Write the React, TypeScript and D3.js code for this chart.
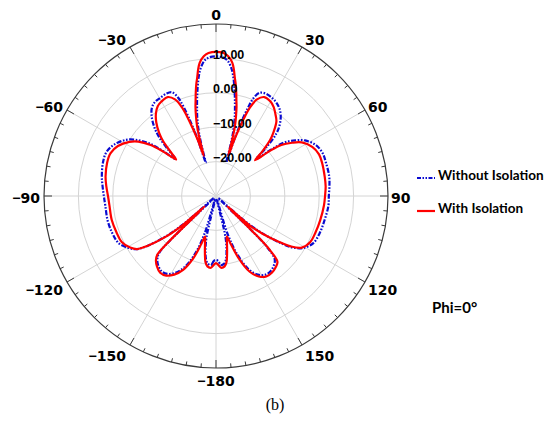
import React from "react";
import * as d3 from "d3";

// Angle (deg, clockwise from top) sampled along both patterns
const angles = [
  -180, -178, -176, -173, -171, -169, -167, -165, -163, -160,
  -156, -152, -148, -144, -140, -137, -135, -134, -132.5, -131,
  -129, -126, -124, -121, -116, -110, -103, -95, -90, -85,
  -80, -73, -68, -63, -58, -55, -52, -50, -47.5, -46,
  -44, -42, -39, -36, -33, -30, -26, -23, -21, -20,
  -19, -18, -17, -16, -15, -14, -13, -12, -11, -10,
  -9, -8, -7, -5, -3, 0, 3, 5, 7, 8,
  9, 10, 11, 12, 13, 14, 15, 16, 17, 18,
  19, 20, 21, 23, 26, 30, 33, 36, 39, 42,
  44, 46, 47.5, 50, 52, 55, 58, 63, 68, 73,
  80, 85, 90, 95, 103, 110, 116, 121, 124, 126,
  129, 131, 132.5, 134, 135, 137, 140, 144, 148, 152,
  156, 160, 163, 165, 167, 169, 171, 173, 176, 178,
];

// With Isolation (dB)
const withIsolation = [
  -10.5, -9.9, -9.1, -9.4, -10.5, -13.1, -15.8, -17.8, -15.5, -10.8,
  -6.5, -4.1, -2.7, -2.4, -3.3, -4.4, -5.9, -11.1, -25.6, -16.9,
  -11.1, -5.3, -2.4, -0.9, 0.5, 0.8, 1.1, 1.1, 1.4, 2.0,
  2.6, 3.1, 3.1, 2.0, -0.3, -2.4, -5.9, -9.7, -14.3, -12.0,
  -7.9, -5.3, -2.4, -0.3, 1.1, 1.7, 2.0, 0.5, -2.4, -5.3,
  -9.1, -13.1, -17.8, -12.6, -8.5, -5.9, -3.5, -1.5, 0.8, 3.0,
  4.9, 7.2, 9.0, 10.8, 11.6, 11.9, 11.6, 10.8, 9.0, 7.2,
  4.9, 3.0, 0.8, -1.5, -3.5, -5.9, -8.5, -12.6, -17.8, -13.1,
  -9.1, -5.3, -2.4, 0.5, 2.0, 1.7, 0.8, -0.6, -2.1, -5.0,
  -7.3, -11.1, -14.6, -9.7, -5.9, -3.0, -0.6, 1.4, 2.3, 2.3,
  2.1, 2.0, 1.7, 1.5, 1.1, 0.8, 0.5, -0.9, -3.8, -7.3,
  -12.6, -16.9, -25.6, -15.5, -8.2, -3.8, -3.0, -2.4, -2.4, -3.5,
  -5.9, -10.8, -15.5, -17.8, -15.8, -13.1, -10.5, -9.4, -9.1, -9.9,
];

// Without Isolation (dB)
const withoutIsolation = [
  -11.4, -11.1, -9.9, -10.2, -11.4, -14.0, -17.8, -29.1, -18.4, -12.0,
  -7.3, -4.7, -3.3, -3.0, -3.8, -5.0, -6.7, -12.6, -29.1, -18.4,
  -11.7, -5.3, -2.4, -0.6, 1.4, 2.0, 2.3, 2.3, 2.6, 3.1,
  3.7, 4.3, 4.3, 3.1, 0.8, -1.5, -5.0, -9.1, -14.0, -10.8,
  -6.2, -3.3, -0.3, 1.7, 2.6, 2.8, 3.1, 2.8, 0.5, -2.4,
  -6.7, -12.0, -19.8, -14.9, -10.8, -7.9, -5.6, -3.5, -1.2, 1.1,
  3.4, 5.5, 7.2, 9.4, 10.3, 10.6, 10.3, 9.4, 7.2, 5.5,
  3.4, 1.1, -1.2, -3.5, -5.6, -7.9, -10.8, -14.9, -19.8, -12.0,
  -6.7, -2.4, 0.5, 2.6, 3.1, 2.8, 2.3, 1.4, -0.1, -2.4,
  -4.7, -9.7, -14.0, -8.8, -4.7, -1.8, 0.5, 2.6, 3.4, 3.4,
  3.4, 3.1, 2.8, 2.8, 2.3, 2.0, 1.4, -0.6, -3.3, -6.7,
  -13.1, -19.0, -29.1, -16.9, -9.1, -5.0, -3.8, -3.0, -3.0, -4.1,
  -6.7, -12.0, -18.4, -29.1, -17.8, -14.0, -11.4, -10.2, -9.9, -11.1,
];

const radialTicks = [-20, -10, 0, 10];
const radialTickLabels = ["−20.00", "−10.00", "0.00", "10.00"];
const angleTicks = [0, 30, 60, 90, 120, 150, 180, 210, 240, 270, 300, 330];
const angleTickLabels = ["0", "30", "60", "90", "120", "150", "−180", "−150", "−120", "−90", "−60", "−30"];
const seriesNames = ["Without Isolation", "With Isolation"];
const noteText = "Phi=0°";
const captionText = "(b)";

const W = 550;
const H = 425;
const cx = 216;
const cy = 196;
const R = 172;

export default function App() {
  const rScale = d3.scaleLinear().domain([-30, 20]).range([0, R]).clamp(true);
  const rad = (a: number) => (a * Math.PI) / 180;

  const makeLine = (vals: number[]) =>
    d3
      .lineRadial<number>()
      .angle((_, i) => rad(angles[i]))
      .radius((v) => rScale(v))
      .curve(d3.curveCatmullRomClosed.alpha(0.5))(vals) as string;

  const minorTicks = d3.range(0, 360, 5);
  const labelFont = "'Liberation Sans', Arial, sans-serif";
  const angleFont = "'DejaVu Sans', Verdana, sans-serif";
  const legendFont = "Lato, 'Open Sans', sans-serif";

  const renderAngleLabel = (s: string) => {
    if (s.startsWith("−")) {
      return (
        <>
          <tspan fontFamily={labelFont}>−</tspan>
          <tspan>{s.slice(1)}</tspan>
        </>
      );
    }
    return s;
  };

  return (
    <svg
      width={W}
      height={H}
      style={{ position: "absolute", left: 0, top: 0, background: "#fff" }}
    >
      <g transform={`translate(${cx},${cy})`}>
        {/* grid rings */}
        {radialTicks.map((t) => (
          <circle key={t} r={rScale(t)} fill="none" stroke="#d4d4d4" strokeWidth={1} />
        ))}
        {/* spokes */}
        {angleTicks.map((a) => (
          <line
            key={a}
            x1={0}
            y1={0}
            x2={R * Math.sin(rad(a))}
            y2={-R * Math.cos(rad(a))}
            stroke="#d4d4d4"
            strokeWidth={1}
          />
        ))}
        {/* outer circle */}
        <circle r={R} fill="none" stroke="#3a3a3a" strokeWidth={1.2} />
        {/* ticks */}
        {minorTicks.map((a) => {
          const major = a % 30 === 0;
          const len = major ? 8 : 4;
          const s = Math.sin(rad(a));
          const c = Math.cos(rad(a));
          return (
            <line
              key={a}
              x1={R * s}
              y1={-R * c}
              x2={(R - len) * s}
              y2={-(R - len) * c}
              stroke="#3a3a3a"
              strokeWidth={1}
            />
          );
        })}
        {/* series */}
        <path
          d={makeLine(withoutIsolation)}
          fill="none"
          stroke="#0a0ad0"
          strokeWidth={2.2}
          strokeDasharray="5,1.6,1.6,1.6,1.6,1.6"
        />
        <path d={makeLine(withIsolation)} fill="none" stroke="#ff0000" strokeWidth={2.2} />
        {/* radial labels */}
        {radialTicks.map((t, i) => (
          <text
            key={t}
            x={-3}
            y={-rScale(t) - 3.5}
            dominantBaseline="central"
            fontFamily={labelFont}
            fontWeight="bold"
            fontSize={12.5}
            fill="#000"
          >
            {radialTickLabels[i]}
          </text>
        ))}
        {/* angle labels */}
        {angleTicks.map((a, i) => {
          const s = Math.sin(rad(a));
          const c = Math.cos(rad(a));
          let anchor: "start" | "end" | "middle" = "middle";
          let x = 0;
          if (Math.abs(s) > 0.01) {
            anchor = s > 0 ? "start" : "end";
            x = R * s + (s > 0 ? 3 : -4);
          }
          const y = -(R + 11) * c + 2;
          return (
            <text
              key={a}
              x={x}
              y={y}
              textAnchor={anchor}
              dominantBaseline="central"
              fontFamily={angleFont}
              fontWeight="bold"
              fontSize={14}
              fill="#000"
            >
              {renderAngleLabel(angleTickLabels[i])}
            </text>
          );
        })}
      </g>
      {/* legend */}
      <g>
        <line
          x1={417}
          y1={178}
          x2={435}
          y2={178}
          stroke="#0a0ad0"
          strokeWidth={2}
          strokeDasharray="4,1.5,1.5,1.5,1.5,1.5"
        />
        <text x={438} y={175} dominantBaseline="central" fontFamily={legendFont} fontWeight="bold" fontSize={13.5} fill="#000">
          {seriesNames[0]}
        </text>
        <line x1={417} y1={211} x2={435} y2={211} stroke="#ff0000" strokeWidth={2.2} />
        <text x={438} y={208} dominantBaseline="central" fontFamily={legendFont} fontWeight="bold" fontSize={13.5} fill="#000">
          {seriesNames[1]}
        </text>
        <text x={432} y={307} dominantBaseline="central" fontFamily={legendFont} fontWeight="bold" fontSize={15} fill="#000">
          {noteText}
        </text>
      </g>
      <text
        x={275}
        y={404}
        textAnchor="middle"
        dominantBaseline="central"
        fontFamily="'Liberation Serif', 'Times New Roman', serif"
        fontSize={16}
        fill="#000"
      >
        {captionText}
      </text>
    </svg>
  );
}
